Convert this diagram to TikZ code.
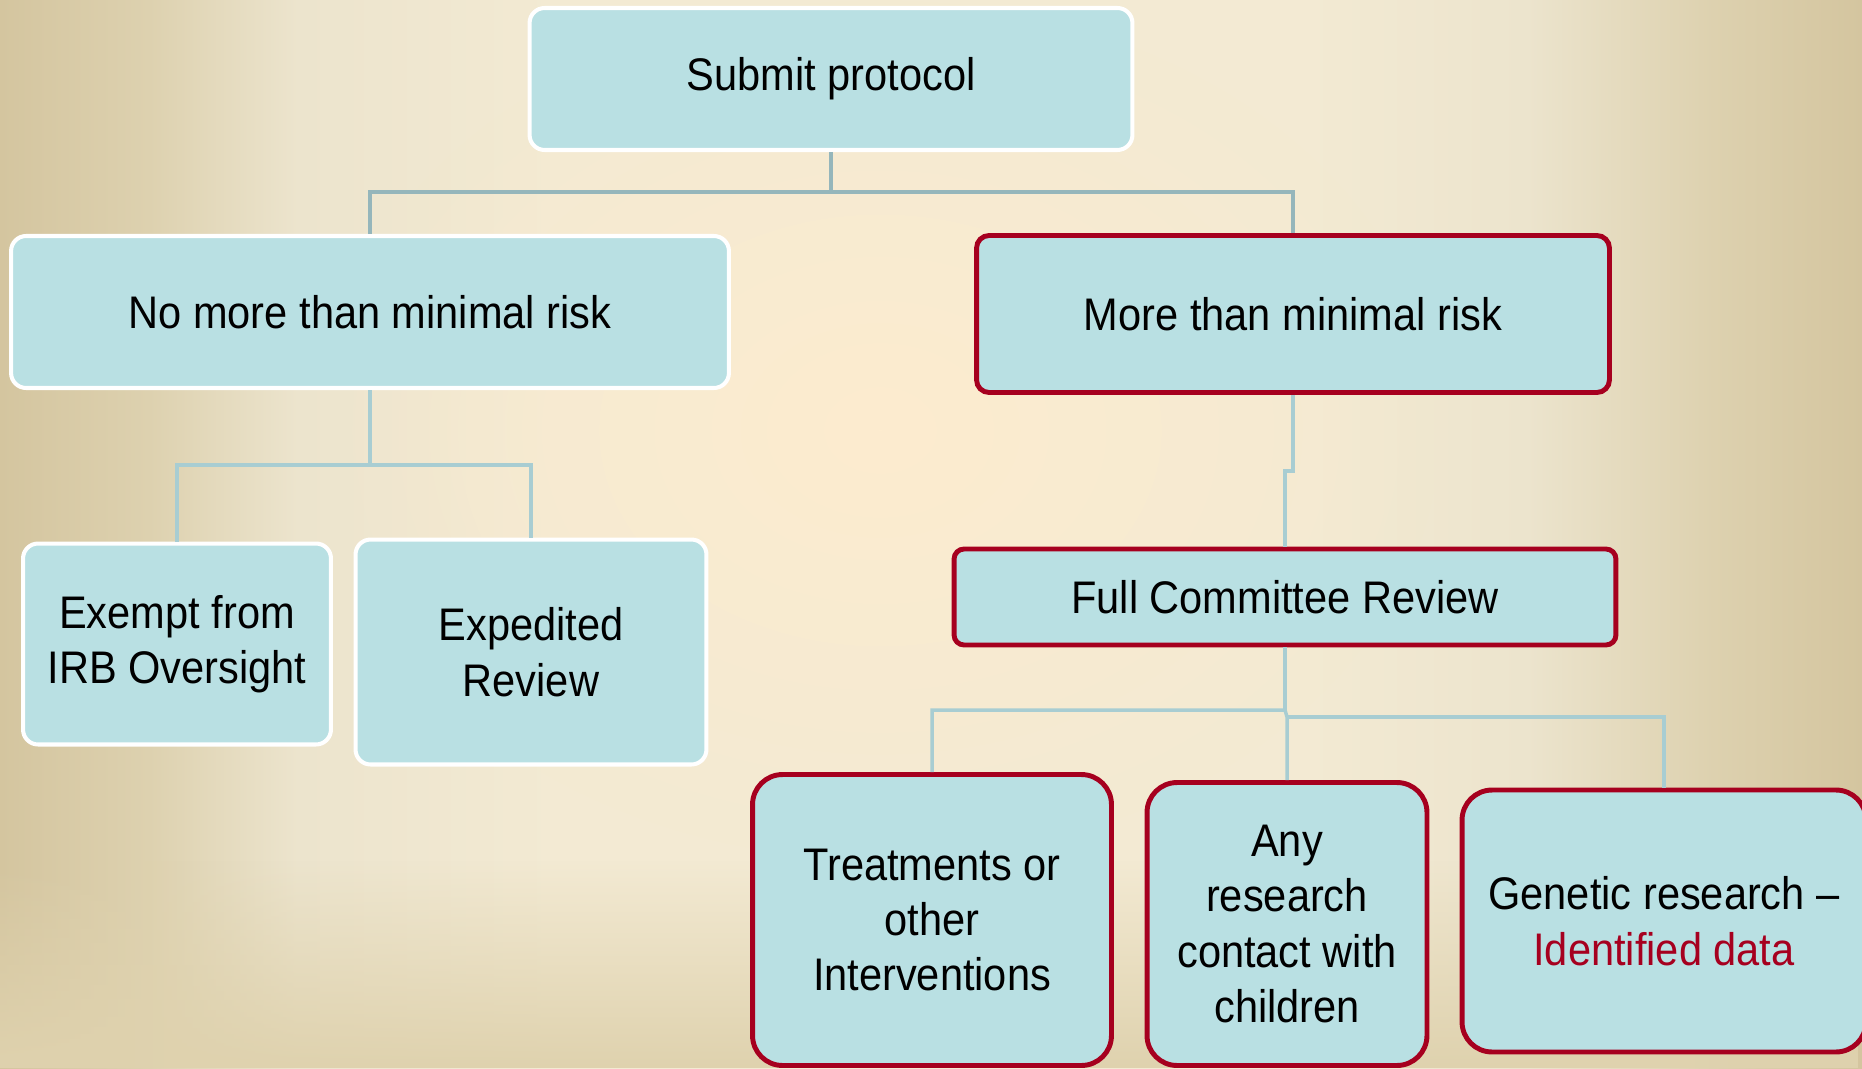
\documentclass[tikz,border=0pt]{standalone}
\usepackage{fontspec}
\setmainfont{Liberation Sans}[FakeStretch=0.91]
\usetikzlibrary{fadings}
\definecolor{boxfill}{HTML}{B9E0E3}
\definecolor{riskred}{HTML}{A6001F}
\definecolor{linkblue}{HTML}{A8CDD2}
\definecolor{linkgrey}{HTML}{95B6BB}
\definecolor{bgedge}{HTML}{D4C59F}
\definecolor{bgnear}{HTML}{DDD1AF}
\definecolor{bglight}{HTML}{ECE4CD}
\definecolor{bgmid}{HTML}{F3EAD3}
\definecolor{bgglow}{HTML}{FDECCF}
\definecolor{bgbottom}{HTML}{DFD2AE}
\pgfdeclarehorizontalshading{paper}{100bp}{color(0bp)=(bgedge); color(25bp)=(bgedge); color(29bp)=(bgnear); color(33bp)=(bglight); color(40bp)=(bgmid); color(60bp)=(bgmid); color(66bp)=(bglight); color(71bp)=(bgnear); color(75bp)=(bgedge); color(100bp)=(bgedge)}
\tikzfading[name=glowfade, inner color=transparent!0, outer color=transparent!100]
\tikzset{
  box/.style={draw=white, line width=2.3pt, fill=boxfill, rounded corners=0.3cm,
    align=center, inner sep=0pt, font=\fontsize{26}{31.5}\selectfont},
  riskbox/.style={box, draw=riskred, line width=2.8pt},
  link/.style={draw=linkblue, line width=2pt},
}
\begin{document}
\begin{tikzpicture}[x=0.02cm, y=-0.02cm]
  % background
  \useasboundingbox (0,0) rectangle (1862,1068);
  \begin{scope}
    \clip (0,0) rectangle (1862,1068);
    \shade[shading=paper] (0,0) rectangle (1862,1068);
    \fill[bgglow, path fading=glowfade] (880,430) ellipse (560 and 430);
    \fill[bgbottom, path fading=north] (0,860) rectangle (1862,1068);
  \end{scope}
  % top level
  \node[box, minimum width=12.06cm, minimum height=2.84cm] (submit) at (831,79) {Submit protocol};
  \node[box, minimum width=14.36cm, minimum height=3.04cm] (nomore) at (370,312) {No more than minimal risk};
  \node[riskbox, minimum width=12.66cm, minimum height=3.14cm, rounded corners=0.25cm] (more) at (1293,314) {More than minimal risk};
  % minimal risk branch
  \node[box, minimum width=6.16cm, minimum height=4.02cm] (exempt) at (177,644) {Exempt from\\IRB Oversight};
  \node[box, minimum width=7.02cm, minimum height=4.5cm] (exped) at (531,652) {Expedited\\Review};
  % full committee branch
  \node[riskbox, minimum width=13.24cm, minimum height=1.92cm, rounded corners=0.2cm] (fcr) at (1285,597) {Full Committee Review};
  \node[riskbox, minimum width=7.18cm, minimum height=5.82cm, rounded corners=0.6cm] (treat) at (932,920) {Treatments or\\other\\Interventions};
  \node[riskbox, minimum width=5.6cm, minimum height=5.66cm, rounded corners=0.6cm] (any) at (1287,924) {Any\\research\\contact with\\children};
  \node[riskbox, minimum width=8.08cm, minimum height=5.24cm, rounded corners=0.6cm] (genetic) at (1664,921) {Genetic research --\\\textcolor{riskred}{Identified data}};
  % connectors
  \coordinate (bus1) at (831,192);
  \coordinate (bus2) at (370,465);
  \coordinate (jog) at (1293,471);
  \coordinate (bus3) at (1285,710);
  \coordinate (bus4) at (1287,717);
  \draw[link, draw=linkgrey] (submit.south) -- (bus1);
  \draw[link, draw=linkgrey] (nomore.north) |- (bus1) -| (more.north);
  \draw[link] (nomore.south) -- (bus2);
  \draw[link] (exempt.north) |- (bus2) -| (exped.north);
  \draw[link] (more.south) -- (jog) -| (fcr.north);
  \draw[link] (fcr.south) -- (bus3);
  \draw[link] (treat.north) |- (bus3) -- (bus4) -- (any.north);
  \draw[link] (bus4) -| (genetic.north);
\end{tikzpicture}
\end{document}
